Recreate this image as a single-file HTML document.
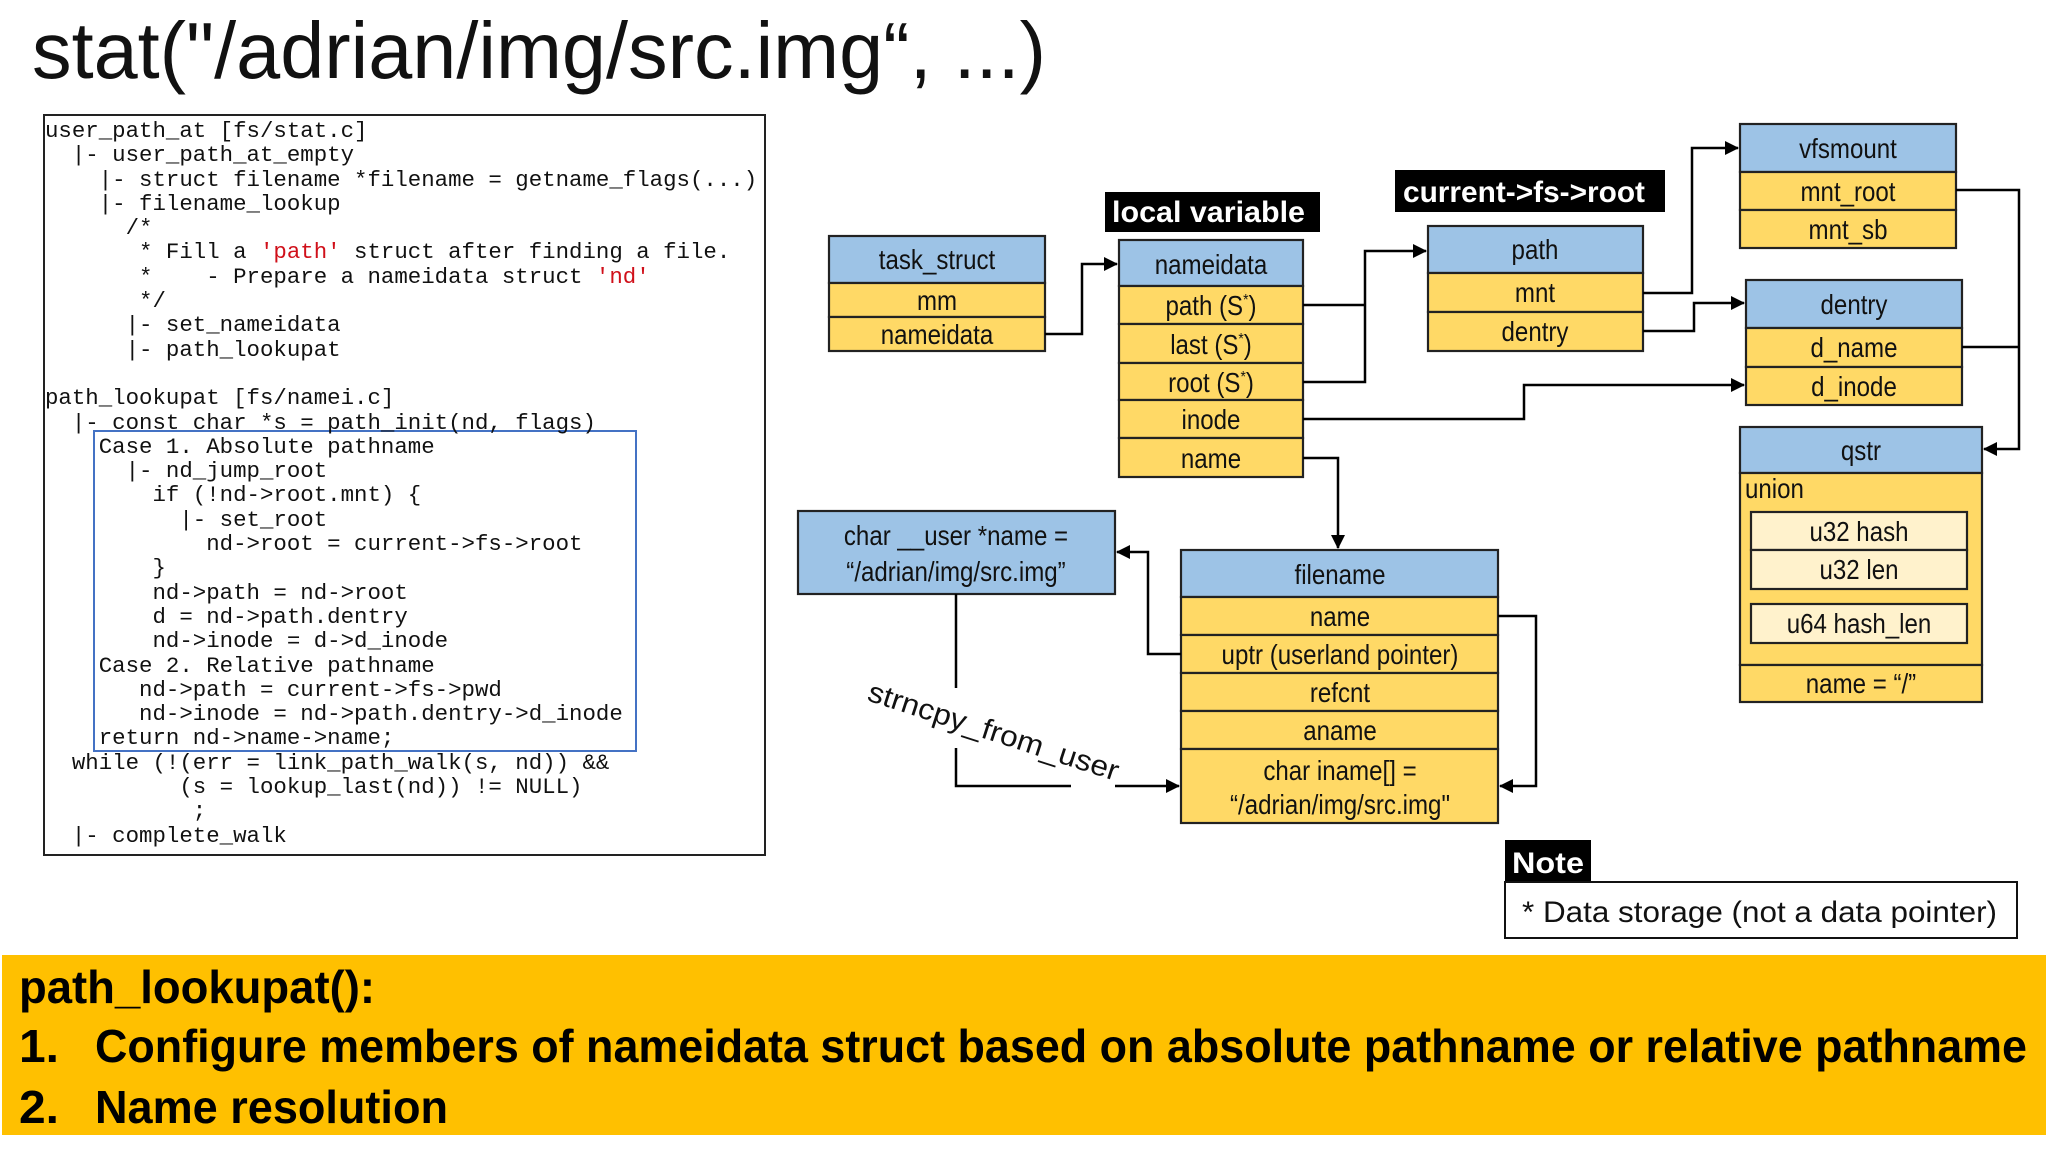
<!DOCTYPE html>
<html><head><meta charset="utf-8">
<style>
html,body{margin:0;padding:0;background:#fff;}
body{width:2048px;height:1152px;position:relative;overflow:hidden;}
svg{position:absolute;left:0;top:0;}
pre.code{position:absolute;left:45px;top:119px;margin:0;font-family:"Liberation Mono",monospace;font-size:22.4px;line-height:24.3px;color:#111;white-space:pre;}
pre.code .r{color:#d0101a;}
</style></head>
<body>
<svg width="2048" height="1152" viewBox="0 0 2048 1152" xmlns="http://www.w3.org/2000/svg" font-family="'Liberation Sans', sans-serif">
<defs>
<marker id="a2" markerWidth="14" markerHeight="14" refX="13" refY="7" orient="auto" markerUnits="userSpaceOnUse" viewBox="0 0 14 14">
<path d="M0,0 L14,7 L0,14 z" fill="#000"/></marker>
</defs>

<text x="32" y="78" font-size="80" fill="#111" textLength="1014" lengthAdjust="spacingAndGlyphs">stat("/adrian/img/src.img“, ...)</text>

<rect x="44" y="115" width="721" height="740" fill="#fff" stroke="#222" stroke-width="2"/>
<rect x="94" y="431" width="542" height="320" fill="none" stroke="#4472c4" stroke-width="2"/>

<g stroke="#222" stroke-width="2.2">
<rect x="829" y="236" width="216" height="47" fill="#9dc3e6"/>
<rect x="829" y="283" width="216" height="34" fill="#ffd966"/>
<rect x="829" y="317" width="216" height="34" fill="#ffd966"/>
<rect x="1119" y="240" width="184" height="46" fill="#9dc3e6"/>
<rect x="1119" y="286" width="184" height="38" fill="#ffd966"/>
<rect x="1119" y="324" width="184" height="39" fill="#ffd966"/>
<rect x="1119" y="363" width="184" height="37" fill="#ffd966"/>
<rect x="1119" y="400" width="184" height="38" fill="#ffd966"/>
<rect x="1119" y="438" width="184" height="39" fill="#ffd966"/>
<rect x="1428" y="226" width="215" height="47" fill="#9dc3e6"/>
<rect x="1428" y="273" width="215" height="39" fill="#ffd966"/>
<rect x="1428" y="312" width="215" height="39" fill="#ffd966"/>
<rect x="1740" y="124" width="216" height="48" fill="#9dc3e6"/>
<rect x="1740" y="172" width="216" height="38" fill="#ffd966"/>
<rect x="1740" y="210" width="216" height="38" fill="#ffd966"/>
<rect x="1746" y="280" width="216" height="48" fill="#9dc3e6"/>
<rect x="1746" y="328" width="216" height="39" fill="#ffd966"/>
<rect x="1746" y="367" width="216" height="38" fill="#ffd966"/>
<rect x="1740" y="427" width="242" height="46" fill="#9dc3e6"/>
<rect x="1740" y="473" width="242" height="192" fill="#ffd966"/>
<rect x="1740" y="665" width="242" height="37" fill="#ffd966"/>
<rect x="1751" y="512" width="216" height="38" fill="#fff2cc"/>
<rect x="1751" y="550" width="216" height="39" fill="#fff2cc"/>
<rect x="1751" y="604" width="216" height="39" fill="#fff2cc"/>
<rect x="798" y="511" width="317" height="83" fill="#9dc3e6"/>
<rect x="1181" y="550" width="317" height="47" fill="#9dc3e6"/>
<rect x="1181" y="597" width="317" height="38" fill="#ffd966"/>
<rect x="1181" y="635" width="317" height="38" fill="#ffd966"/>
<rect x="1181" y="673" width="317" height="38" fill="#ffd966"/>
<rect x="1181" y="711" width="317" height="38" fill="#ffd966"/>
<rect x="1181" y="749" width="317" height="74" fill="#ffd966"/>
</g>

<rect x="1105" y="192" width="215" height="40" fill="#000"/>
<text x="1112" y="222" font-size="30" font-weight="bold" fill="#fff" textLength="193" lengthAdjust="spacingAndGlyphs">local variable</text>
<rect x="1395" y="170" width="270" height="42" fill="#000"/>
<text x="1403" y="202" font-size="30" font-weight="bold" fill="#fff" textLength="242" lengthAdjust="spacingAndGlyphs">current-&gt;fs-&gt;root</text>

<g font-size="28" fill="#111" text-anchor="middle" class="c">
<text x="937" y="269">task_struct</text>
<text x="937" y="310">mm</text>
<text x="937" y="344">nameidata</text>
<text x="1211" y="274">nameidata</text>
<text x="1211" y="315">path (S<tspan font-size="16" dy="-10">*</tspan><tspan dy="10">)</tspan></text>
<text x="1211" y="354">last (S<tspan font-size="16" dy="-10">*</tspan><tspan dy="10">)</tspan></text>
<text x="1211" y="392">root (S<tspan font-size="16" dy="-10">*</tspan><tspan dy="10">)</tspan></text>
<text x="1211" y="429">inode</text>
<text x="1211" y="468">name</text>
<text x="1535" y="259">path</text>
<text x="1535" y="302">mnt</text>
<text x="1535" y="341">dentry</text>
<text x="1848" y="158">vfsmount</text>
<text x="1848" y="201">mnt_root</text>
<text x="1848" y="239">mnt_sb</text>
<text x="1854" y="314">dentry</text>
<text x="1854" y="357">d_name</text>
<text x="1854" y="396">d_inode</text>
<text x="1861" y="460">qstr</text>
<text x="1859" y="541">u32  hash</text>
<text x="1859" y="579">u32 len</text>
<text x="1859" y="633">u64 hash_len</text>
<text x="1861" y="693">name = “/”</text>
<text x="956" y="545">char __user *name =</text>
<text x="956" y="581">“/adrian/img/src.img”</text>
<text x="1340" y="584">filename</text>
<text x="1340" y="626">name</text>
<text x="1340" y="664">uptr (userland pointer)</text>
<text x="1340" y="702">refcnt</text>
<text x="1340" y="740">aname</text>
<text x="1340" y="780">char iname[] =</text>
<text x="1340" y="814">“/adrian/img/src.img"</text>
</g>
<text x="1745" y="498" font-size="28" fill="#111" class="c">union</text>

<g fill="none" stroke="#000" stroke-width="2.5">
<polyline points="1045,334 1082,334 1082,264 1117,264" marker-end="url(#a2)"/>
<polyline points="1303,305 1365,305"/>
<polyline points="1303,382 1365,382 1365,251 1426,251" marker-end="url(#a2)"/>
<polyline points="1643,293 1692,293 1692,148 1738,148" marker-end="url(#a2)"/>
<polyline points="1643,331 1694,331 1694,303 1744,303" marker-end="url(#a2)"/>
<polyline points="1303,419 1524,419 1524,385 1744,385" marker-end="url(#a2)"/>
<polyline points="1956,190 2019,190 2019,449 1984,449" marker-end="url(#a2)"/>
<polyline points="1962,347 2019,347"/>
<polyline points="1303,458 1338,458 1338,548" marker-end="url(#a2)"/>
<polyline points="1181,654 1148,654 1148,552 1117,552" marker-end="url(#a2)"/>
<polyline points="1498,616 1536,616 1536,786 1500,786" marker-end="url(#a2)"/>
<polyline points="956,594 956,688"/>
<polyline points="956,748 956,786 1071,786"/>
<polyline points="1115,786 1179,786" marker-end="url(#a2)"/>
</g>
<text x="0" y="0" font-size="29" fill="#111" transform="translate(866,700) rotate(18)" textLength="262" lengthAdjust="spacingAndGlyphs">strncpy_from_user</text>

<rect x="1505" y="840" width="86" height="43" fill="#000"/>
<text x="1512" y="873" font-size="30" font-weight="bold" fill="#fff" textLength="72" lengthAdjust="spacingAndGlyphs">Note</text>
<rect x="1505" y="882" width="512" height="56" fill="#fff" stroke="#111" stroke-width="2"/>
<text x="1522" y="922" font-size="30" fill="#111" textLength="475" lengthAdjust="spacingAndGlyphs">* Data storage (not a data pointer)</text>

<rect x="2" y="955" width="2044" height="180" fill="#ffc000"/>
<g font-size="46" font-weight="bold" fill="#000">
<text x="19" y="1003" textLength="356" lengthAdjust="spacingAndGlyphs">path_lookupat():</text>
<text x="19" y="1062" textLength="40" lengthAdjust="spacingAndGlyphs">1.</text>
<text x="95" y="1062" textLength="1932" lengthAdjust="spacingAndGlyphs">Configure members of nameidata struct based on absolute pathname or relative pathname</text>
<text x="19" y="1123" textLength="40" lengthAdjust="spacingAndGlyphs">2.</text>
<text x="95" y="1123" textLength="353" lengthAdjust="spacingAndGlyphs">Name resolution</text>
</g>
</svg>

<pre class="code">user_path_at [fs/stat.c]
  |- user_path_at_empty
    |- struct filename *filename = getname_flags(...)
    |- filename_lookup
      /*
       * Fill a <span class="r">'path'</span> struct after finding a file.
       *    - Prepare a nameidata struct <span class="r">'nd'</span>
       */
      |- set_nameidata
      |- path_lookupat

path_lookupat [fs/namei.c]
  |- const char *s = path_init(nd, flags)
    Case 1. Absolute pathname
      |- nd_jump_root
        if (!nd->root.mnt) {
          |- set_root
            nd->root = current->fs->root
        }
        nd->path = nd->root
        d = nd->path.dentry
        nd->inode = d->d_inode
    Case 2. Relative pathname
       nd->path = current->fs->pwd
       nd->inode = nd->path.dentry->d_inode
    return nd->name->name;
  while (!(err = link_path_walk(s, nd)) &amp;&amp;
          (s = lookup_last(nd)) != NULL)
           ;
  |- complete_walk</pre>

<script>
document.querySelectorAll('text.c, g.c text').forEach(function(t){
  try{var w=t.getComputedTextLength();t.setAttribute('textLength',(w*0.86).toFixed(1));t.setAttribute('lengthAdjust','spacingAndGlyphs');}catch(e){}
});
</script>
</body></html>
